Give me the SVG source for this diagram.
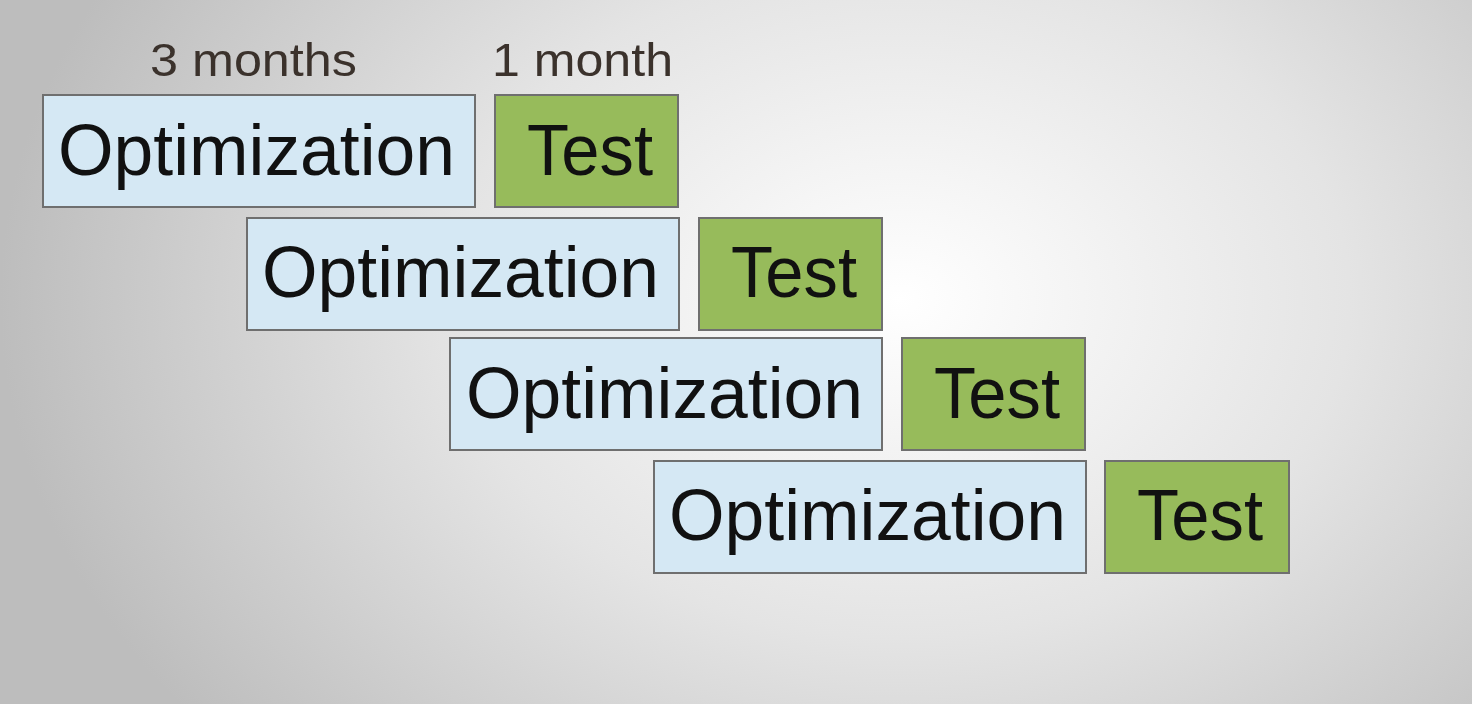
<svg xmlns="http://www.w3.org/2000/svg" width="1472" height="704" viewBox="0 0 1472 704">
<defs>
<radialGradient id="bg" cx="900" cy="300" r="900" gradientUnits="userSpaceOnUse" gradientTransform="translate(900 300) scale(1 0.75) translate(-900 -300)">
<stop offset="0" stop-color="#ffffff"/>
<stop offset="0.5" stop-color="#e4e4e4"/>
<stop offset="1" stop-color="#bdbdbd"/>
</radialGradient>
</defs>
<style>
.opt{fill:#d5e8f4;stroke:#6f6f6f;stroke-width:2}
.test{fill:#97bb5b;stroke:#6f6f6f;stroke-width:2}
.big{font-family:"Liberation Sans",Arial,sans-serif;font-size:72px;fill:#111}
.lbl{font-family:"Liberation Sans",Arial,sans-serif;font-size:46px;fill:#3b322c}
</style>
<rect x="0" y="0" width="1472" height="704" fill="url(#bg)"/>
<g id="labels">
<text class="lbl" x="150" y="76" textLength="207" lengthAdjust="spacingAndGlyphs">3 months</text>
<text class="lbl" x="492" y="76" textLength="181" lengthAdjust="spacingAndGlyphs">1 month</text>
</g>
<g id="opt1"><rect class="opt" x="43" y="95" width="432" height="112"/><text class="big" x="58" y="175" textLength="397" lengthAdjust="spacingAndGlyphs">Optimization</text></g>
<g id="test1"><rect class="test" x="495" y="95" width="183" height="112"/><text class="big" x="527" y="175" textLength="126" lengthAdjust="spacingAndGlyphs">Test</text></g>
<g id="opt2"><rect class="opt" x="247" y="218" width="432" height="112"/><text class="big" x="262" y="297" textLength="397" lengthAdjust="spacingAndGlyphs">Optimization</text></g>
<g id="test2"><rect class="test" x="699" y="218" width="183" height="112"/><text class="big" x="731" y="297" textLength="126" lengthAdjust="spacingAndGlyphs">Test</text></g>
<g id="opt3"><rect class="opt" x="450" y="338" width="432" height="112"/><text class="big" x="466" y="418" textLength="397" lengthAdjust="spacingAndGlyphs">Optimization</text></g>
<g id="test3"><rect class="test" x="902" y="338" width="183" height="112"/><text class="big" x="934" y="418" textLength="126" lengthAdjust="spacingAndGlyphs">Test</text></g>
<g id="opt4"><rect class="opt" x="654" y="461" width="432" height="112"/><text class="big" x="669" y="540" textLength="397" lengthAdjust="spacingAndGlyphs">Optimization</text></g>
<g id="test4"><rect class="test" x="1105" y="461" width="184" height="112"/><text class="big" x="1137" y="540" textLength="126" lengthAdjust="spacingAndGlyphs">Test</text></g>
<g id="connectors"/>
</svg>
